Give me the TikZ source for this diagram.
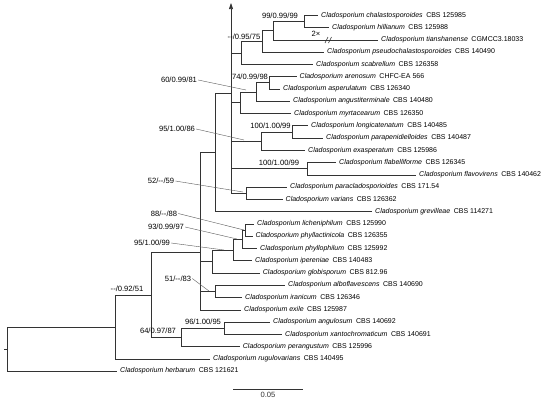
\documentclass[tikz,border=0pt]{standalone}
\usepackage{fontspec}
\setmainfont{Liberation Sans}
\usetikzlibrary{arrows.meta}
\tikzset{
	taxon/.style={anchor=west,inner sep=0pt,font=\fontsize{7}{8}\selectfont,text height=5pt,text depth=1.5pt},
	support/.style={inner sep=0pt,font=\fontsize{7.6}{9}\selectfont},
	branch/.style={line width=0.6pt,black!80},
	leader/.style={line width=0.4pt,black!65},
}
\newcommand{\clado}[2]{\textit{Cladosporium #1}\enspace #2}
\begin{document}
\begin{tikzpicture}[x=1pt,y=-1pt]
	\useasboundingbox (0,0) rectangle (550,402);
	\coordinate (E) at (304.3,21.4);
	\coordinate (D) at (273.3,30.6);
	\coordinate (C) at (262.7,41.3);
	\coordinate (B) at (241.7,52.9);
	\coordinate (H) at (269,82.7);
	\coordinate (G) at (256.7,92);
	\coordinate (F) at (240.7,102.7);
	\coordinate (J) at (292.5,131.8);
	\coordinate (I) at (261.7,141);
	\coordinate (K) at (307.3,168.6);
	\coordinate (L) at (246,193.2);
	\coordinate (A) at (231,93.3);
	\coordinate (top) at (231,3);
	\coordinate (M) at (215.7,152.5);
	\coordinate (U) at (245.5,230);
	\coordinate (T) at (242,239.2);
	\coordinate (S) at (233,250);
	\coordinate (P) at (212.5,261.5);
	\coordinate (Q) at (215,291.4);
	\coordinate (N) at (200,252.7);
	\coordinate (Y) at (224.3,328.2);
	\coordinate (V) at (181,337.4);
	\coordinate (R) at (151,295);
	\coordinate (W) at (115.7,327);
	\coordinate (X) at (7.3,349);
	\coordinate (root) at (4,349);
	\node[taxon] (chal) at (321,15.3) {\clado{chalastosporoides}{CBS 125985}};
	\node[taxon] (hill) at (332,27.6) {\clado{hillianum}{CBS 125988}};
	\node[taxon] (tian) at (381,39.8) {\clado{tianshanense}{CGMCC3.18033}};
	\node[taxon] (pseudo) at (327,52.1) {\clado{pseudochalastosporoides}{CBS 140490}};
	\node[taxon] (scab) at (316,64.4) {\clado{scabrellum}{CBS 126358}};
	\node[taxon] (aren) at (299.5,76.7) {\clado{arenosum}{CHFC-EA 566}};
	\node[taxon] (asper) at (283,88.9) {\clado{asperulatum}{CBS 126340}};
	\node[taxon] (angus) at (293,101.2) {\clado{angustiterminale}{CBS 140480}};
	\node[taxon] (myrt) at (294,113.5) {\clado{myrtacearum}{CBS 126350}};
	\node[taxon] (longi) at (311,125.7) {\clado{longicatenatum}{CBS 140485}};
	\node[taxon] (parap) at (326,138) {\clado{parapenidielloides}{CBS 140487}};
	\node[taxon] (exasp) at (308,150.3) {\clado{exasperatum}{CBS 125986}};
	\node[taxon] (flab) at (339,162.5) {\clado{flabelliforme}{CBS 126345}};
	\node[taxon] (flavo) at (419,174.8) {\clado{flavovirens}{CBS 140462}};
	\node[taxon] (paracl) at (290,187.1) {\clado{paracladosporioides}{CBS 171.54}};
	\node[taxon] (vari) at (285.5,199.4) {\clado{varians}{CBS 126362}};
	\node[taxon] (grev) at (375,211.6) {\clado{grevilleae}{CBS 114271}};
	\node[taxon] (lich) at (257,223.9) {\clado{licheniphilum}{CBS 125990}};
	\node[taxon] (phyllac) at (255.5,236.2) {\clado{phyllactinicola}{CBS 126355}};
	\node[taxon] (phyllo) at (260,248.4) {\clado{phyllophilum}{CBS 125992}};
	\node[taxon] (iper) at (255,260.7) {\clado{ipereniae}{CBS 140483}};
	\node[taxon] (glob) at (262.7,273) {\clado{globisporum}{CBS 812.96}};
	\node[taxon] (albo) at (288,285.2) {\clado{alboflavescens}{CBS 140690}};
	\node[taxon] (iran) at (245,297.5) {\clado{iranicum}{CBS 126346}};
	\node[taxon] (exile) at (244,309.8) {\clado{exile}{CBS 125987}};
	\node[taxon] (angul) at (273,322.1) {\clado{angulosum}{CBS 140692}};
	\node[taxon] (xanto) at (285,334.3) {\clado{xantochromaticum}{CBS 140691}};
	\node[taxon] (peran) at (242.7,346.6) {\clado{perangustum}{CBS 125996}};
	\node[taxon] (rugu) at (213,358.9) {\clado{rugulovarians}{CBS 140495}};
	\node[taxon] (herb) at (120,371.1) {\clado{herbarum}{CBS 121621}};
	\draw[branch] (root) -- (X) (X) |- (W) (X) |- ([xshift=-3pt]herb.west);
	\draw[branch] (W) |- (R) (W) |- ([xshift=-3pt]rugu.west);
	\draw[branch] (R) |- (N) (R) |- (V);
	\draw[branch] (V) |- (Y) (V) |- ([xshift=-3pt]peran.west);
	\draw[branch] (Y) |- ([xshift=-3pt]angul.west) (Y) |- ([xshift=-3pt]xanto.west);
	\draw[branch] (N) |- (M) (N) |- (P) (N) |- (Q) (N) |- ([xshift=-3pt]exile.west);
	\draw[branch] (Q) |- ([xshift=-3pt]albo.west) (Q) |- ([xshift=-3pt]iran.west);
	\draw[branch] (P) |- (S) (P) |- ([xshift=-3pt]glob.west);
	\draw[branch] (S) |- (T) (S) |- ([xshift=-3pt]iper.west);
	\draw[branch] (T) |- (U) (T) |- ([xshift=-3pt]phyllo.west);
	\draw[branch] (U) |- ([xshift=-3pt]lich.west) (U) |- ([xshift=-3pt]phyllac.west);
	\draw[branch] (M) |- (A) (M) |- ([xshift=-3pt]grev.west);
	\draw[branch,-{Triangle[width=4pt,length=6pt]}] (A) -- (top);
	\draw[branch] (A) |- (B) (A) |- (F) (A) |- (I) (A) |- (K) (A) |- (L);
	\draw[branch] (B) |- (C) (B) |- ([xshift=-3pt]scab.west);
	\draw[branch] (C) |- (D) (C) |- ([xshift=-3pt]pseudo.west);
	\draw[branch] (D) |- (E) (D) |- ([xshift=-3pt]tian.west);
	\draw[branch] (E) |- ([xshift=-3pt]chal.west) (E) |- ([xshift=-3pt]hill.west);
	\draw[branch] (F) |- (G) (F) |- ([xshift=-3pt]myrt.west);
	\draw[branch] (G) |- (H) (G) |- ([xshift=-3pt]angus.west);
	\draw[branch] (H) |- ([xshift=-3pt]aren.west) (H) |- ([xshift=-3pt]asper.west);
	\draw[branch] (I) |- (J) (I) |- ([xshift=-3pt]exasp.west);
	\draw[branch] (J) |- ([xshift=-3pt]longi.west) (J) |- ([xshift=-3pt]parap.west);
	\draw[branch] (K) |- ([xshift=-3pt]flab.west) (K) |- ([xshift=-3pt]flavo.west);
	\draw[branch] (L) |- ([xshift=-3pt]paracl.west) (L) |- ([xshift=-3pt]vari.west);
	\draw[branch] (325,43) -- (328,37) (328.5,43) -- (331.5,37);
	\node[support] (twice) at (316,33.5) {2×};
	\node[support] (s99) at (280,15.5) {99/0.99/99};
	\node[support] (s75) at (244,37) {-{}-/0.95/75};
	\node[support] (s98) at (250,76.5) {74/0.99/98};
	\node[support] (s81) at (179,80) {60/0.99/81};
	\node[support] (s86) at (177,129) {95/1.00/86};
	\node[support] (s99a) at (270.5,126) {100/1.00/99};
	\node[support] (s99b) at (279,163) {100/1.00/99};
	\node[support] (s59) at (161,181) {52/-{}-/59};
	\node[support] (s88) at (164,213.5) {88/-{}-/88};
	\node[support] (s97) at (166,227) {93/0.99/97};
	\node[support] (s99c) at (152,243) {95/1.00/99};
	\node[support] (s83) at (178,278.5) {51/-{}-/83};
	\node[support] (s51) at (127,288.5) {-{}-/0.92/51};
	\node[support] (s87) at (158,331) {64/0.97/87};
	\node[support] (s95) at (203,322) {96/1.00/95};
	\coordinate (g81) at (246,90);
	\coordinate (g86) at (244,140);
	\coordinate (g59) at (243,192);
	\coordinate (g88) at (244,230);
	\coordinate (g97) at (237,239);
	\coordinate (g99) at (224,250);
	\coordinate (g83) at (209,291);
	\draw[leader] ([xshift=1pt]s81.east) -- (g81);
	\draw[leader] ([xshift=1pt]s86.east) -- (g86);
	\draw[leader] ([xshift=1pt]s59.east) -- (g59);
	\draw[leader] ([xshift=1pt]s88.east) -- (g88);
	\draw[leader] ([xshift=1pt]s97.east) -- (g97);
	\draw[leader] ([xshift=1pt]s99c.east) -- (g99);
	\draw[leader] ([xshift=1pt]s83.east) -- (g83);
	\coordinate (bar1) at (233,389);
	\coordinate (bar2) at (303,389);
	\draw[branch] (bar1) -- (bar2) node[midway,below=3pt,support] (scale) {0.05};
\end{tikzpicture}
\end{document}
